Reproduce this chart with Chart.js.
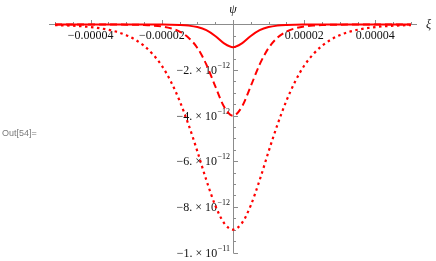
<!DOCTYPE html>
<html><head><meta charset="utf-8">
<script src="https://cdn.jsdelivr.net/npm/chart.js@4"></script>
<style>html,body{margin:0;padding:0;background:#fff;}#wrap{width:436px;height:261px;position:relative;}</style>
</head><body><div id="wrap"><canvas id="c" width="436" height="261"></canvas></div>
<script>
// xi values (abscissa)
const xi = [-5.0e-5,-4.75e-5,-4.5e-5,-4.25e-5,-4.0e-5,-3.75e-5,-3.5e-5,-3.25e-5,-3.0e-5,-2.75e-5,
  -2.5e-5,-2.25e-5,-2.0e-5,-1.75e-5,-1.5e-5,-1.25e-5,-1.0e-5,-0.75e-5,-0.5e-5,-0.25e-5,
  0,
  0.25e-5,0.5e-5,0.75e-5,1.0e-5,1.25e-5,1.5e-5,1.75e-5,2.0e-5,2.25e-5,2.5e-5,
  2.75e-5,3.0e-5,3.25e-5,3.5e-5,3.75e-5,4.0e-5,4.25e-5,4.5e-5,4.75e-5,5.0e-5];
// psi values in units of 1e-12
const PSI_UNIT = 1e-12;
const psiSolid = [0,0,0,0,0,0,0,0,0,0,
  -0.0006,-0.0015,-0.004,-0.009,-0.021,-0.049,-0.113,-0.25,-0.503,-0.83,
  -1,
  -0.83,-0.503,-0.25,-0.113,-0.049,-0.021,-0.009,-0.004,-0.0015,-0.0006,
  0,0,0,0,0,0,0,0,0,0];
const psiDashed = [0,0,-0.0001,-0.0002,-0.0005,-0.0009,-0.0018,-0.0034,-0.0065,-0.0125,
  -0.024,-0.046,-0.088,-0.167,-0.312,-0.578,-1.03,-1.75,-2.70,-3.61,
  -4,
  -3.61,-2.70,-1.75,-1.03,-0.578,-0.312,-0.167,-0.088,-0.046,-0.024,
  -0.0125,-0.0065,-0.0034,-0.0018,-0.0009,-0.0005,-0.0002,-0.0001,0,0];
const psiDotted = [-0.027,-0.039,-0.055,-0.079,-0.113,-0.162,-0.231,-0.330,-0.467,-0.664,
  -0.936,-1.31,-1.81,-2.49,-3.35,-4.39,-5.57,-6.82,-7.93,-8.71,
  -9,
  -8.71,-7.93,-6.82,-5.57,-4.39,-3.35,-2.49,-1.81,-1.31,-0.936,
  -0.664,-0.467,-0.330,-0.231,-0.162,-0.113,-0.079,-0.055,-0.039,-0.027];

const xTickValues = [-4e-5,-2e-5,2e-5,4e-5];
const xTickLabels = ["\u22120.00004","\u22120.00002","0.00002","0.00004"];
const yTickValues = [-2e-12,-4e-12,-6e-12,-8e-12,-1e-11];
const yTickMantissa = ["\u22122.","\u22124.","\u22126.","\u22128.","\u22121."];
const yTickExponent = ["\u221212","\u221212","\u221212","\u221212","\u221211"];
const xAxisTitle = "\u03BE";
const yAxisTitle = "\u03C8";
const outLabel = "Out[54]=";

function pts(arr){ return xi.map((x,i)=>({x:x, y:arr[i]*PSI_UNIT})); }

const AXIS = '#8c8c8c';
const axesPlugin = {
  id:'mmaAxes',
  beforeDatasetsDraw(chart){
    const ctx = chart.ctx, xs = chart.scales.x, ys = chart.scales.y, a = chart.chartArea;
    const x0 = xs.getPixelForValue(0), y0 = ys.getPixelForValue(0);
    ctx.save();
    ctx.strokeStyle = AXIS; ctx.lineWidth = 1;
    ctx.beginPath();
    ctx.moveTo(a.left, Math.round(y0)+0.5); ctx.lineTo(a.right, Math.round(y0)+0.5);
    ctx.moveTo(Math.round(x0)+0.5, a.top); ctx.lineTo(Math.round(x0)+0.5, a.bottom);
    // x ticks every 5e-6
    for(let k=-10;k<=10;k++){
      if(k===0) continue;
      const px = Math.round(xs.getPixelForValue(k*5e-6))+0.5;
      const len = (k%4===0)?4.5:2.5;
      ctx.moveTo(px, Math.round(y0)+0.5); ctx.lineTo(px, Math.round(y0)+0.5-len);
    }
    // y ticks every 0.5e-12
    for(let k=1;k<=20;k++){
      const py = Math.round(ys.getPixelForValue(-k*0.5e-12))+0.5;
      const len = (k%4===0)?4.5:2.5;
      ctx.moveTo(Math.round(x0)+0.5, py); ctx.lineTo(Math.round(x0)+0.5+len, py);
    }
    ctx.stroke();
    // x labels
    ctx.fillStyle = '#111';
    ctx.font = '12px "Liberation Serif", "DejaVu Serif", serif';
    ctx.textAlign = 'center'; ctx.textBaseline = 'middle';
    xTickValues.forEach((v,i)=>{
      ctx.fillText(xTickLabels[i], xs.getPixelForValue(v), y0 + 11);
    });
    // y labels
    yTickValues.forEach((v,i)=>{
      const py = ys.getPixelForValue(v);
      const right = x0 - 3;
      ctx.font = '8px "Liberation Serif", "DejaVu Serif", serif';
      const ew = ctx.measureText(yTickExponent[i]).width;
      ctx.textAlign = 'right'; ctx.textBaseline = 'middle';
      ctx.fillText(yTickExponent[i], right, py - 4);
      ctx.font = '12px "Liberation Serif", "DejaVu Serif", serif';
      ctx.fillText(yTickMantissa[i] + " \u00D7 10", right - ew - 0.5, py + 1);
    });
    // axis titles
    ctx.font = 'italic 12px "Liberation Serif", "DejaVu Serif", serif';
    ctx.textAlign = 'center'; ctx.textBaseline = 'middle';
    ctx.fillText(yAxisTitle, x0, 10);
    ctx.textAlign = 'left';
    ctx.fillText(xAxisTitle, a.right + 9, y0);
    // Out label
    ctx.font = '9px "Liberation Sans", "DejaVu Sans", sans-serif';
    ctx.fillStyle = '#7a7a7a';
    ctx.textAlign = 'left'; ctx.textBaseline = 'middle';
    ctx.fillText(outLabel, 2, 134);
    ctx.restore();
  }
};

new Chart(document.getElementById('c'), {
  type:'line',
  data:{ datasets:[
    {data:pts(psiSolid), borderColor:'#ff0000', borderWidth:2, pointRadius:0, cubicInterpolationMode:'monotone', fill:false},
    {data:pts(psiDashed), borderColor:'#ff0000', borderWidth:2, pointRadius:0, borderDash:[7,4], cubicInterpolationMode:'monotone', fill:false},
    {data:pts(psiDotted), borderColor:'#ff0000', borderWidth:2.2, pointRadius:0, borderDash:[2.5,3.5], cubicInterpolationMode:'monotone', fill:false}
  ]},
  options:{
    responsive:false, animation:false, devicePixelRatio:1,
    layout:{padding:{left:49, right:19, top:20, bottom:7.7}},
    plugins:{legend:{display:false}, tooltip:{enabled:false}},
    scales:{
      x:{type:'linear', min:-5.17e-5, max:5.17e-5, display:false},
      y:{type:'linear', min:-10.035e-12, max:0.197e-12, display:false}
    }
  },
  plugins:[axesPlugin]
});
</script>
</body></html>
